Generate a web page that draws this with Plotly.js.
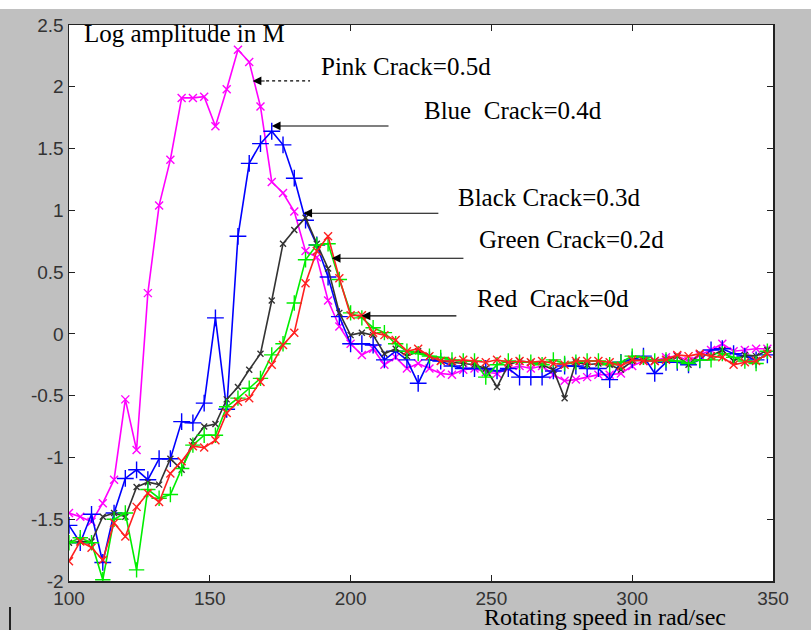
<!DOCTYPE html>
<html>
<head>
<meta charset="utf-8">
<script src="https://cdn.plot.ly/plotly-3.0.1.min.js"></script>
<style>
  html, body { margin: 0; padding: 0; background: #ffffff; width: 811px; height: 630px; overflow: hidden; }
  #chart { position: absolute; left: 0; top: 9px; width: 811px; height: 621px; }
  #mark { position: absolute; left: 9px; top: 607px; width: 2px; height: 23px; background: #222; }
</style>
</head>
<body>
<div id="chart"></div>
<div id="mark"></div>
<script>
// Rotating speed (rad/sec)
const speed = [100,104,108,112,116,120,124,128,132,136,
               140,144,148,152,156,160,164,168,172,176,
               180,184,188,192,196,200,204,208,212,216,
               220,224,228,232,236,240,244,248,252,256,
               260,264,268,272,276,280,284,288,292,296,
               300,304,308,312,316,320,324,328,332,336,
               340,344,348];

// Log amplitude for each crack depth
const pink = [-1.45,-1.48,-1.52,-1.37,-1.18,-0.53,-0.94,0.33,1.04,1.41,
              1.91,1.91,1.92,1.68,1.98,2.30,2.20,1.84,1.23,1.14,
              0.99,0.67,0.62,0.27,0.06,-0.08,-0.17,-0.12,-0.25,-0.19,
              -0.28,-0.24,-0.28,-0.32,-0.33,-0.29,-0.28,-0.31,-0.32,-0.28,
              -0.26,-0.28,-0.26,-0.33,-0.38,-0.37,-0.35,-0.33,-0.33,-0.32,
              -0.26,-0.22,-0.22,-0.19,-0.18,-0.22,-0.17,-0.13,-0.08,-0.14,
              -0.13,-0.12,-0.12];

const blue = [-1.55,-1.69,-1.46,-1.85,-1.45,-1.17,-1.10,-1.18,-1.01,-1.01,
              -0.71,-0.72,-0.56,0.13,-0.61,0.79,1.38,1.54,1.64,1.53,
              1.26,0.92,0.72,0.46,0.14,-0.08,-0.08,-0.09,-0.21,-0.14,
              -0.21,-0.40,-0.21,-0.22,-0.26,-0.28,-0.28,-0.28,-0.30,-0.28,
              -0.35,-0.35,-0.35,-0.30,-0.26,-0.26,-0.28,-0.28,-0.37,-0.23,
              -0.21,-0.18,-0.32,-0.23,-0.23,-0.25,-0.21,-0.13,-0.12,-0.16,
              -0.18,-0.21,-0.17];

const black = [-1.69,-1.68,-1.68,-1.48,-1.45,-1.48,-1.24,-1.20,-1.22,-1.01,
               -1.10,-0.87,-0.75,-0.73,-0.53,-0.43,-0.29,-0.16,0.27,0.73,
               0.84,0.94,0.73,0.53,0.17,-0.01,0.01,-0.01,-0.16,-0.12,
               -0.18,-0.14,-0.18,-0.22,-0.23,-0.24,-0.25,-0.28,-0.43,-0.25,
               -0.22,-0.23,-0.25,-0.29,-0.52,-0.23,-0.25,-0.24,-0.25,-0.29,
               -0.22,-0.21,-0.22,-0.21,-0.18,-0.25,-0.16,-0.18,-0.13,-0.22,
               -0.17,-0.18,-0.13];

const green = [-1.69,-1.65,-1.69,-1.99,-1.50,-1.45,-1.91,-1.26,-1.33,-1.30,
               -1.09,-0.90,-0.82,-0.82,-0.59,-0.52,-0.44,-0.36,-0.17,-0.08,
               0.25,0.60,0.72,0.73,0.44,0.17,0.13,0.05,0.01,-0.08,
               -0.14,-0.16,-0.18,-0.19,-0.21,-0.22,-0.22,-0.35,-0.25,-0.22,
               -0.23,-0.23,-0.25,-0.21,-0.24,-0.23,-0.22,-0.22,-0.25,-0.23,
               -0.18,-0.19,-0.22,-0.21,-0.22,-0.24,-0.21,-0.21,-0.16,-0.19,
               -0.22,-0.24,-0.14];

const red = [-1.84,-1.68,-1.73,-1.83,-1.53,-1.64,-1.40,-1.29,-1.36,-1.13,
             -1.03,-0.91,-0.92,-0.86,-0.64,-0.55,-0.52,-0.39,-0.25,-0.09,
             0.01,0.41,0.67,0.79,0.45,0.15,0.15,0.01,-0.01,-0.05,
             -0.14,-0.12,-0.18,-0.22,-0.22,-0.21,-0.22,-0.23,-0.21,-0.23,
             -0.22,-0.23,-0.22,-0.24,-0.25,-0.22,-0.22,-0.22,-0.23,-0.26,
             -0.21,-0.22,-0.22,-0.21,-0.17,-0.18,-0.16,-0.18,-0.19,-0.25,
             -0.23,-0.22,-0.16];

// Tick labels
const xTicks = [100,150,200,250,300,350];
const xTickText = ['100','150','200','250','300','350'];
const yTicks = [-2,-1.5,-1,-0.5,0,0.5,1,1.5,2,2.5];
const yTickText = ['-2','-1.5','-1','-0.5','0','0.5','1','1.5','2','2.5'];

// Labels
const seriesNames = ['Pink Crack=0.5d','Blue\u00a0\u00a0Crack=0.4d','Black Crack=0.3d','Green Crack=0.2d','Red\u00a0\u00a0Crack=0d'];

function tr(y, color, symbol, size, name) {
  return {
    x: speed, y: y, type: 'scatter', mode: 'lines+markers', name: name,
    line: {color: color, width: 1.6},
    marker: {symbol: symbol, size: size, color: color, line: {color: color, width: 1.4}}
  };
}

const data = [
  tr(pink, '#ff00ff', 'x-thin-open', 8, seriesNames[0]),
  tr(blue, '#0000ff', 'cross-thin-open', 12, seriesNames[1]),
  tr(black, '#333333', 'x-thin-open', 6, seriesNames[2]),
  tr(green, '#00ee00', 'cross-thin-open', 11, seriesNames[3]),
  tr(red, '#ff2020', 'x-thin-open', 8, seriesNames[4])
];

const serif = {family: '"Liberation Serif", "Times New Roman", serif', size: 25, color: '#000'};

function label(text, x, y) {
  return {text: text, x: x, y: y, xref: 'x', yref: 'y', showarrow: false,
          xanchor: 'center', yanchor: 'middle', font: serif};
}
function arrow(xh, yh, xt) {
  return {text: '', x: xh, y: yh, ax: xt, ay: yh, xref: 'x', yref: 'y', axref: 'x', ayref: 'y',
          showarrow: true, arrowhead: 2, arrowsize: 1.6, arrowwidth: 1.1, arrowcolor: '#000'};
}

const tickFont = {family: 'Arial, "Liberation Sans", sans-serif', size: 19, color: '#333'};

const layout = {
  width: 811, height: 621,
  margin: {l: 69, r: 38, t: 16, b: 49, pad: 0},
  paper_bgcolor: '#c0c0c0',
  plot_bgcolor: '#ffffff',
  showlegend: false,
  xaxis: {
    range: [100, 350], tickvals: xTicks, ticktext: xTickText,
    ticks: 'inside', ticklen: 6, tickcolor: '#222', showgrid: false, zeroline: false,
    showline: true, mirror: 'ticks', linecolor: '#222', linewidth: 1.5,
    tickfont: tickFont
  },
  yaxis: {
    range: [-2, 2.5], tickvals: yTicks, ticktext: yTickText,
    ticks: 'inside', ticklen: 6, tickcolor: '#222', showgrid: false, zeroline: false,
    showline: true, mirror: 'ticks', linecolor: '#222', linewidth: 1.5,
    tickfont: tickFont
  },
  shapes: [
    // dotted shaft of the pink pointer
    {type: 'line', xref: 'x', yref: 'y', x0: 170, y0: 2.047, x1: 185.6, y1: 2.047,
     line: {color: '#000', width: 1.2, dash: 'dot'}},
    // spell-check squiggle under the axis title
    {type: 'line', xref: 'paper', yref: 'paper', x0: 0.84, x1: 0.893, y0: -0.1, y1: -0.1,
     line: {color: '#ff0000', width: 1.2, dash: 'dot'}}
  ],
  annotations: [
    {text: 'Log amplitude in M', xref: 'paper', yref: 'paper', x: 0.0185, y: 0.984,
     xanchor: 'left', yanchor: 'middle', showarrow: false, font: serif},
    {text: 'Rotating speed in rad/sec', xref: 'paper', yref: 'paper', x: 0.761, y: -0.064,
     xanchor: 'center', yanchor: 'middle', showarrow: false,
     font: {family: serif.family, size: 24, color: '#000'}},
    label(seriesNames[0], 219.7, 2.168),
    label(seriesNames[1], 257.5, 1.804),
    label(seriesNames[2], 270.6, 1.100),
    label(seriesNames[3], 278.3, 0.760),
    label(seriesNames[4], 271.9, 0.283),
    arrow(165.2, 2.047, 170),
    arrow(172.0, 1.683, 214.0),
    arrow(183.2, 0.977, 231.7),
    arrow(193.3, 0.612, 240.6),
    arrow(203.9, 0.146, 238.1)
  ]
};

Plotly.newPlot('chart', data, layout, {displayModeBar: false, staticPlot: true});
</script>
</body>
</html>
